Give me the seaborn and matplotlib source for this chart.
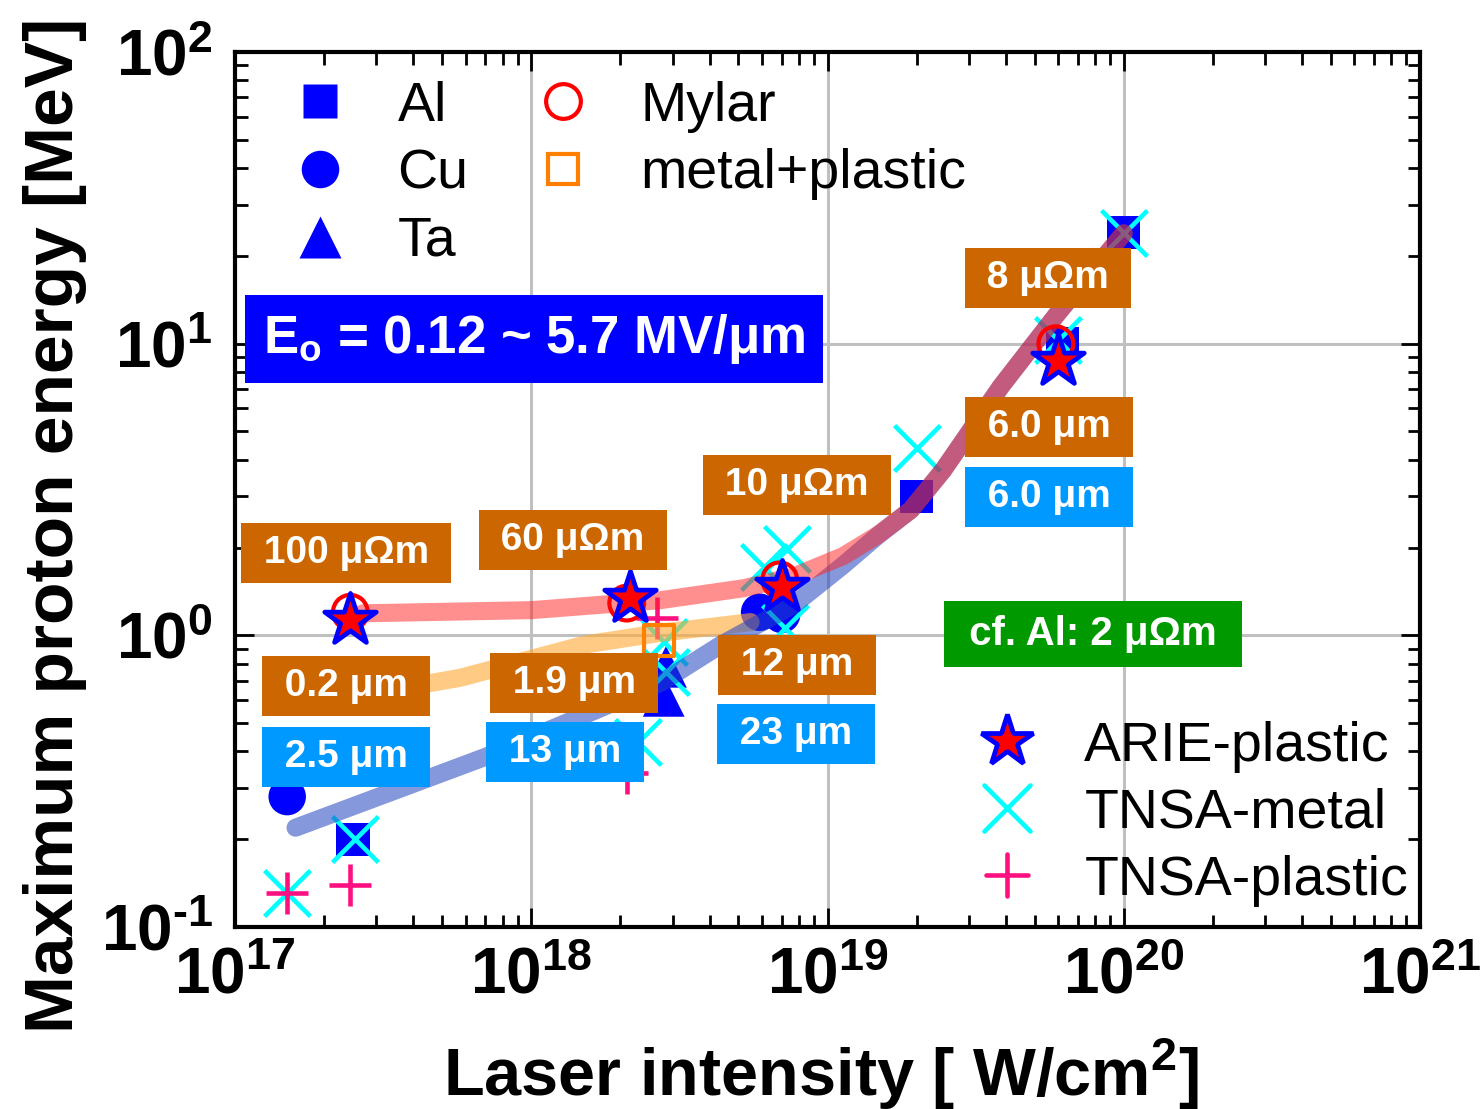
import numpy as np
import pandas as pd
import seaborn as sns
import matplotlib.pyplot as plt
from matplotlib.lines import Line2D
from matplotlib.markers import MarkerStyle
from matplotlib.ticker import LogLocator, NullFormatter, FuncFormatter

# values (laser intensity W/cm2, proton energy MeV)
al_x = [2.5e17, 2.0e19, 6.2e19, 1.0e20]
al_y = [0.20, 3.0, 10.0, 24.0]
cu_x = [1.5e17, 5.9e18, 7.0e18]
cu_y = [0.28, 1.20, 1.18]
ta_x = [2.85e18, 2.8e18]
ta_y = [0.78, 0.62]
mylar_x = [2.45e17, 2.1e18, 6.9e18, 5.9e19]
mylar_y = [1.20, 1.29, 1.55, 10.0]
mp_x = [2.7e18]
mp_y = [0.96]
arie_x = [2.45e17, 2.15e18, 7.0e18, 6.0e19]
arie_y = [1.13, 1.34, 1.47, 8.7]
tnsa_m_x = [1.5e17, 2.55e17, 2.3e18, 2.85e18, 2.8e18, 6.1e18, 7.3e18, 7.2e18, 2.0e19, 6.0e19, 1.0e20]
tnsa_m_y = [0.131, 0.20, 0.43, 0.75, 0.95, 1.72, 1.97, 1.06, 4.4, 10.3, 24.0]
tnsa_p_x = [1.5e17, 2.45e17, 2.65e18, 2.1e18]
tnsa_p_y = [0.131, 0.139, 1.15, 0.337]

# fitted trend bands
red_x = [2.7e17, 1.0e18, 2.73e18, 5.2e18, 7.67e18, 1.13e19, 1.48e19, 1.91e19, 2.46e19, 3.84e19, 5.98e19, 1.0e20]
red_y = [1.19, 1.22, 1.32, 1.45, 1.59, 1.87, 2.21, 2.69, 3.69, 7.11, 12.7, 23.9]
blue_x = [1.6e17, 7.0e17, 2.73e18, 4.35e18, 7.67e18, 1.13e19, 1.48e19, 1.91e19, 2.46e19, 3.84e19, 5.98e19, 1.0e20]
blue_y = [0.219, 0.383, 0.687, 0.926, 1.27, 1.74, 2.2, 2.69, 3.69, 7.11, 12.7, 23.9]
orange_x = [2.45e17, 5.75e17, 1.52e18, 2.73e18, 5.5e18]
orange_y = [0.615, 0.715, 0.93, 1.02, 1.11]

# annotation boxes
box_text = ["100 μΩm", "60 μΩm", "10 μΩm", "8 μΩm", "6.0 μm", "6.0 μm",
            "0.2 μm", "2.5 μm", "1.9 μm", "13 μm", "12 μm", "23 μm"]
box_kind = ["r", "r", "r", "r", "r", "t", "r", "t", "r", "t", "r", "t"]
box_pos = [(0.0937, 0.4274), (0.2852, 0.4423), (0.4743, 0.5051), (0.6861, 0.7417),
           (0.6869, 0.5714), (0.6869, 0.4914), (0.0937, 0.2754), (0.0937, 0.1943),
           (0.2861, 0.2789), (0.2785, 0.2000), (0.4743, 0.2994), (0.4734, 0.2206)]

sns.set_theme(style="ticks")
plt.rcParams['font.family'] = ['Liberation Sans', 'DejaVu Sans']
plt.rcParams['font.weight'] = 'bold'
plt.rcParams['mathtext.fontset'] = 'custom'
plt.rcParams['mathtext.rm'] = 'Liberation Sans:bold'
plt.rcParams['mathtext.it'] = 'Liberation Sans:bold'
plt.rcParams['mathtext.bf'] = 'Liberation Sans:bold'
plt.rcParams['mathtext.default'] = 'regular'
plt.rcParams['axes.unicode_minus'] = False
plt.rcParams['axes.edgecolor'] = 'black'
plt.rcParams['axes.labelcolor'] = 'black'
plt.rcParams['text.color'] = 'black'
plt.rcParams['xtick.color'] = 'black'
plt.rcParams['ytick.color'] = 'black'

fig = plt.figure(figsize=(14.81, 11.09), dpi=100)
ax = fig.add_axes([0.1587, 0.1641, 0.8001, 0.789])
ax.set(xscale='log', yscale='log')

# filled metal markers
sns.scatterplot(x=al_x, y=al_y, marker='s', s=24**2, color='blue', edgecolor='none', linewidth=0, ax=ax, zorder=1)
sns.scatterplot(x=cu_x, y=cu_y, marker='o', s=27**2, color='blue', edgecolor='none', linewidth=0, ax=ax, zorder=1)
sns.scatterplot(x=ta_x, y=ta_y, marker='^', s=30**2, color='blue', edgecolor='none', linewidth=0, ax=ax, zorder=1)
sns.scatterplot(x=tnsa_m_x, y=tnsa_m_y, marker=MarkerStyle('x', capstyle='round'), s=33**2,
                color='#00ffff', linewidth=3.3, ax=ax, zorder=1.2)
sns.scatterplot(x=tnsa_p_x, y=tnsa_p_y, marker=MarkerStyle('+', capstyle='round'), s=30**2,
                color='#ff1080', linewidth=3.3, ax=ax, zorder=1.3)

# trend bands
sns.lineplot(x=orange_x, y=orange_y, sort=False, estimator=None, color='#ffa833', alpha=0.6, lw=13, ax=ax, zorder=2)
sns.lineplot(x=blue_x, y=blue_y, sort=False, estimator=None, color='#2244c0', alpha=0.55, lw=13, ax=ax, zorder=2)
sns.lineplot(x=red_x, y=red_y, sort=False, estimator=None, color='#ff2020', alpha=0.5, lw=13, ax=ax, zorder=2)

sns.scatterplot(x=mp_x, y=mp_y, marker='s', s=22**2, facecolor='none', edgecolor='#ff8000', linewidth=3, ax=ax, zorder=3)
sns.scatterplot(x=mylar_x, y=mylar_y, marker='o', s=25**2, facecolor='none', edgecolor='red', linewidth=3, ax=ax, zorder=3)
sns.scatterplot(x=arie_x, y=arie_y, marker='*', s=39**2, color='red', edgecolor='blue', linewidth=3.4, ax=ax, zorder=4)

ax.set_xlim(1e17, 1e21)
ax.set_ylim(0.1, 100)

# labels in boxes
colors = {"r": "#cc6600", "t": "#0099ff"}
for txt, kind, (bx, by) in zip(box_text, box_kind, box_pos):
    ax.text(bx, by, " " + txt + " ", transform=ax.transAxes, ha='center', va='center',
            fontsize=28, color='white', zorder=6,
            bbox=dict(boxstyle='square,pad=0.3', fc=colors[kind], ec='none'))
ax.text(0.724, 0.3349, " cf. Al: 2 μΩm ", transform=ax.transAxes, ha='center', va='center',
        fontsize=29, color='white', zorder=6,
        bbox=dict(boxstyle='square,pad=0.35', fc='#009900', ec='none'))
ax.text(0.2523, 0.672, "E$_o$ = 0.12 ~ 5.7 MV/μm", transform=ax.transAxes, ha='center', va='center',
        fontsize=38, color='white', zorder=6,
        bbox=dict(boxstyle='square,pad=0.33', fc='#0000ff', ec='none'))

# legends
h1 = [Line2D([], [], ls='none', marker='s', ms=24, mfc='blue', mec='none', label='Al'),
      Line2D([], [], ls='none', marker='o', ms=27, mfc='blue', mec='none', label='Cu'),
      Line2D([], [], ls='none', marker='^', ms=30, mfc='blue', mec='none', label='Ta'),
      Line2D([], [], ls='none', marker='o', ms=25, mfc='none', mec='red', mew=3, label='Mylar'),
      Line2D([], [], ls='none', marker='s', ms=22, mfc='none', mec='#ff8000', mew=3, label='metal+plastic')]
leg1 = ax.legend(handles=h1, ncol=2, loc='upper left', bbox_to_anchor=(0.048, 0.967), frameon=False,
                 prop={'size': 40, 'weight': 'normal'}, handlelength=1.0, handletextpad=0.9,
                 columnspacing=1.2, labelspacing=0.28, borderpad=0, borderaxespad=0)
ax.add_artist(leg1)
h2 = [Line2D([], [], ls='none', marker='*', ms=39, mfc='red', mec='blue', mew=3.4, label='ARIE-plastic'),
      Line2D([], [], ls='none', marker=MarkerStyle('x', capstyle='round'), ms=33, mec='#00ffff', mew=3.3, label='TNSA-metal'),
      Line2D([], [], ls='none', marker=MarkerStyle('+', capstyle='round'), ms=30, mec='#ff1080', mew=3.3, label='TNSA-plastic')]
ax.legend(handles=h2, loc='lower right', bbox_to_anchor=(0.99, 0.023), frameon=False,
          prop={'size': 40, 'weight': 'normal'}, handlelength=1.0, handletextpad=0.9,
          labelspacing=0.27, borderpad=0, borderaxespad=0)


def decade_label(v, pos):
    e = int(round(np.log10(v)))
    return r'$\mathdefault{10^{\text{%d}}}$' % e


# axes styling
ax.xaxis.set_major_locator(LogLocator(base=10, numticks=10))
ax.xaxis.set_minor_locator(LogLocator(base=10, subs=np.arange(2, 10), numticks=50))
ax.yaxis.set_major_locator(LogLocator(base=10, numticks=10))
ax.yaxis.set_minor_locator(LogLocator(base=10, subs=np.arange(2, 10), numticks=50))
ax.xaxis.set_major_formatter(FuncFormatter(decade_label))
ax.yaxis.set_major_formatter(FuncFormatter(decade_label))
ax.xaxis.set_minor_formatter(NullFormatter())
ax.yaxis.set_minor_formatter(NullFormatter())
ax.tick_params(which='both', direction='in', top=True, right=True, width=2, colors='black')
ax.tick_params(which='major', length=14, labelsize=46)
ax.tick_params(which='minor', length=9)
ax.tick_params(axis='x', which='major', pad=14)
ax.tick_params(axis='y', which='major', pad=16)
ax.grid(True, which='major', color='#c0c0c0', lw=2.2)
ax.set_axisbelow(True)
for sp in ax.spines.values():
    sp.set_linewidth(3)
    sp.set_color('black')

ax.set_xlabel('Laser intensity [ W/cm$^2$]', fontsize=48, fontweight='bold')
ax.set_ylabel('Maximum proton energy [MeV]', fontsize=50, fontweight='bold')
ax.xaxis.set_label_coords(0.4945, -0.125)
ax.yaxis.set_label_coords(-0.125, 0.459)

fig.savefig('out.png', dpi=100)
